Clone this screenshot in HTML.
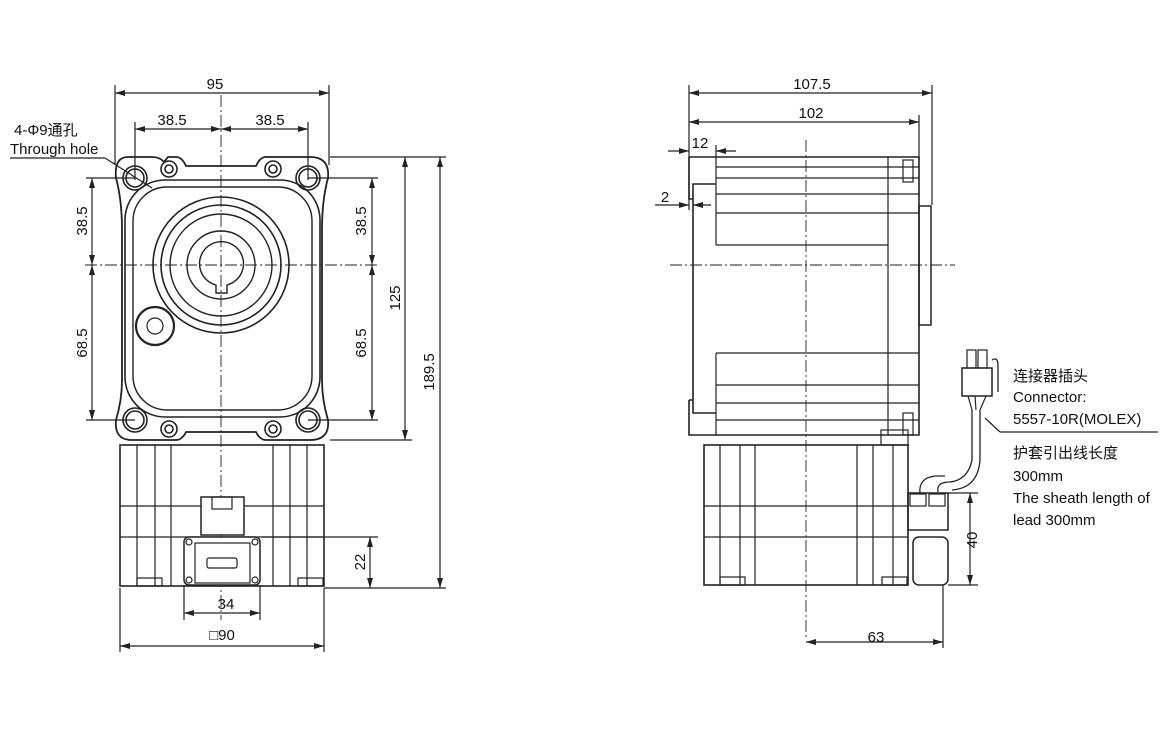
<!DOCTYPE html>
<html><head><meta charset="utf-8"><style>
html,body{margin:0;padding:0;background:#fff}
svg{display:block}
text{font-family:"Liberation Sans","Noto Sans CJK SC",sans-serif;font-size:15px;fill:#111}
</style></head><body>
<svg width="1168" height="730" viewBox="0 0 1168 730" xmlns="http://www.w3.org/2000/svg">
<defs>
<marker id="a" viewBox="0 0 10 6" refX="10" refY="3" markerWidth="10" markerHeight="6" orient="auto-start-reverse" markerUnits="userSpaceOnUse"><path d="M0,0 L10,3 L0,6z" fill="#222"/></marker>
</defs>
<g stroke="#222" fill="none" stroke-width="1.2">
<g stroke-dasharray="12,3,2,3" stroke-width="0.9">
<line x1="221" y1="95" x2="221" y2="620"/>
<line x1="85" y1="265" x2="380" y2="265"/>
<line x1="806" y1="140" x2="806" y2="640"/>
<line x1="670" y1="265" x2="955" y2="265"/>
</g>
<line x1="115" y1="85" x2="115" y2="165"/><line x1="329" y1="85" x2="329" y2="165"/>
<line x1="115" y1="93" x2="329" y2="93" marker-start="url(#a)" marker-end="url(#a)"/>
<line x1="135" y1="122" x2="135" y2="180"/><line x1="308" y1="122" x2="308" y2="180"/>
<line x1="135" y1="129" x2="221" y2="129" marker-start="url(#a)" marker-end="url(#a)"/>
<line x1="221" y1="129" x2="308" y2="129" marker-start="url(#a)" marker-end="url(#a)"/>
<line x1="86" y1="178" x2="135" y2="178"/><line x1="86" y1="420" x2="135" y2="420"/>
<line x1="308" y1="178" x2="378" y2="178"/><line x1="308" y1="420" x2="378" y2="420"/>
<line x1="92" y1="178" x2="92" y2="265" marker-start="url(#a)" marker-end="url(#a)"/>
<line x1="92" y1="265" x2="92" y2="420" marker-start="url(#a)" marker-end="url(#a)"/>
<line x1="372" y1="178" x2="372" y2="265" marker-start="url(#a)" marker-end="url(#a)"/>
<line x1="372" y1="265" x2="372" y2="420" marker-start="url(#a)" marker-end="url(#a)"/>
<line x1="330" y1="157" x2="446" y2="157"/><line x1="330" y1="440" x2="412" y2="440"/>
<line x1="405" y1="157" x2="405" y2="440" marker-start="url(#a)" marker-end="url(#a)"/>
<line x1="324" y1="588" x2="446" y2="588"/>
<line x1="440" y1="157" x2="440" y2="588" marker-start="url(#a)" marker-end="url(#a)"/>
<line x1="262" y1="537" x2="378" y2="537"/>
<line x1="370" y1="537" x2="370" y2="588" marker-start="url(#a)" marker-end="url(#a)"/>
<line x1="184" y1="585" x2="184" y2="620"/><line x1="260" y1="585" x2="260" y2="620"/>
<line x1="184" y1="613" x2="260" y2="613" marker-start="url(#a)" marker-end="url(#a)"/>
<line x1="120" y1="588" x2="120" y2="652"/><line x1="324" y1="588" x2="324" y2="652"/>
<line x1="120" y1="646" x2="324" y2="646" marker-start="url(#a)" marker-end="url(#a)"/>
<line x1="10" y1="158" x2="105" y2="158"/><line x1="105" y1="158" x2="152" y2="188"/>
<path d="M128,157 L152,157 Q160,157 164,162 L168,157 L176,157 Q182,157 186,166 L256,166 Q260,157 266,157 L310,157 Q330,157 328,178 Q322,200 322,230 L322,380 Q322,400 328,420 Q330,440 310,440 L266,440 Q260,440 256,432 L186,432 Q182,440 176,440 L132,440 Q114,440 116,420 Q122,400 122,380 L122,230 Q122,200 116,178 Q114,157 128,157Z" stroke-width="1.8"/>
<rect x="125" y="180" width="195" height="237" rx="40" stroke-width="1.6"/>
<rect x="133" y="187" width="179" height="223" rx="34" stroke-width="1.4"/>
<circle cx="221" cy="265" r="68" stroke-width="1.6"/>
<circle cx="221" cy="265" r="60" stroke-width="1.6"/>
<circle cx="221" cy="265" r="51" stroke-width="1.4"/>
<circle cx="221" cy="265" r="34" stroke-width="1.4"/>
<path d="M216,285 A22,22 0 1 1 227,285 L227,293 L216,293Z" stroke-width="1.4"/>
<circle cx="155" cy="326" r="19" stroke-width="2.2"/>
<circle cx="155" cy="326" r="8"/>
<g stroke-width="1.6">
<circle cx="135" cy="178" r="12"/><circle cx="135" cy="178" r="9"/>
<circle cx="308" cy="178" r="12"/><circle cx="308" cy="178" r="9"/>
<circle cx="135" cy="420" r="12"/><circle cx="135" cy="420" r="9"/>
<circle cx="308" cy="420" r="12"/><circle cx="308" cy="420" r="9"/>
<circle cx="169" cy="169" r="8"/><circle cx="169" cy="169" r="4"/>
<circle cx="273" cy="169" r="8"/><circle cx="273" cy="169" r="4"/>
<circle cx="169" cy="429" r="8"/><circle cx="169" cy="429" r="4"/>
<circle cx="273" cy="429" r="8"/><circle cx="273" cy="429" r="4"/>
</g>
<rect x="120" y="445" width="204" height="141" stroke-width="1.6"/>
<line x1="120" y1="506" x2="324" y2="506"/><line x1="120" y1="537" x2="324" y2="537"/>
<line x1="137" y1="445" x2="137" y2="586"/><line x1="155" y1="445" x2="155" y2="586"/><line x1="171" y1="445" x2="171" y2="586"/>
<line x1="273" y1="445" x2="273" y2="586"/><line x1="290" y1="445" x2="290" y2="586"/><line x1="307" y1="445" x2="307" y2="586"/>
<rect x="201" y="497" width="43" height="38" fill="#fff" stroke-width="1.5"/>
<rect x="212" y="497" width="20" height="12"/>
<rect x="184" y="537" width="76" height="48" rx="5" fill="#fff" stroke-width="1.5"/>
<rect x="195" y="543" width="55" height="40"/>
<rect x="207" y="558" width="30" height="10" rx="2"/>
<circle cx="189" cy="542" r="3"/><circle cx="255" cy="542" r="3"/><circle cx="189" cy="580" r="3"/><circle cx="255" cy="580" r="3"/>
<rect x="137" y="578" width="25" height="8"/><rect x="298" y="578" width="25" height="8"/>
<line x1="689" y1="85" x2="689" y2="210"/>
<line x1="932" y1="85" x2="932" y2="205"/><line x1="919" y1="115" x2="919" y2="160"/>
<line x1="689" y1="93" x2="932" y2="93" marker-start="url(#a)" marker-end="url(#a)"/>
<line x1="689" y1="122" x2="919" y2="122" marker-start="url(#a)" marker-end="url(#a)"/>
<line x1="716" y1="145" x2="716" y2="157"/>
<line x1="668" y1="151" x2="689" y2="151" marker-end="url(#a)"/><line x1="736" y1="151" x2="716" y2="151" marker-end="url(#a)"/>
<line x1="655" y1="205" x2="689" y2="205" marker-end="url(#a)"/><line x1="711" y1="205" x2="693" y2="205" marker-end="url(#a)"/>
<line x1="948" y1="493" x2="978" y2="493"/><line x1="948" y1="585" x2="978" y2="585"/>
<line x1="970" y1="493" x2="970" y2="585" marker-start="url(#a)" marker-end="url(#a)"/>
<line x1="943" y1="585" x2="943" y2="648"/>
<line x1="806" y1="642" x2="943" y2="642" marker-start="url(#a)" marker-end="url(#a)"/>
<path d="M716,157 L919,157 L919,435 L716,435 M689,157 L716,157 M689,157 L689,199 L693,199 L693,184 L716,184 M693,199 L693,413 L716,413 M689,400 L693,400 M689,400 L689,435 L716,435" stroke-width="1.6"/>
<line x1="716" y1="157" x2="716" y2="245"/><line x1="716" y1="353" x2="716" y2="435"/>
<line x1="888" y1="157" x2="888" y2="435"/>
<line x1="716" y1="167" x2="919" y2="167"/><line x1="716" y1="178" x2="919" y2="178"/>
<line x1="716" y1="194" x2="919" y2="194"/><line x1="716" y1="213" x2="919" y2="213"/>
<line x1="716" y1="245" x2="888" y2="245"/>
<line x1="716" y1="353" x2="919" y2="353"/><line x1="716" y1="385" x2="919" y2="385"/>
<line x1="716" y1="403" x2="919" y2="403"/><line x1="716" y1="420" x2="919" y2="420"/>
<rect x="919" y="206" width="12" height="119" stroke-width="1.5"/>
<rect x="903" y="160" width="10" height="22"/><rect x="903" y="413" width="10" height="22"/>
<rect x="881" y="430" width="27" height="15"/>
<rect x="704" y="445" width="204" height="140" stroke-width="1.6"/>
<line x1="704" y1="506" x2="908" y2="506"/><line x1="704" y1="537" x2="908" y2="537"/>
<line x1="720" y1="445" x2="720" y2="585"/><line x1="740" y1="445" x2="740" y2="585"/><line x1="755" y1="445" x2="755" y2="585"/>
<line x1="857" y1="445" x2="857" y2="585"/><line x1="873" y1="445" x2="873" y2="585"/><line x1="893" y1="445" x2="893" y2="585"/>
<rect x="720" y="577" width="25" height="8"/><rect x="882" y="577" width="25" height="8"/>
<rect x="908" y="493" width="40" height="37" stroke-width="1.5"/>
<rect x="910" y="494" width="16" height="12"/><rect x="929" y="494" width="16" height="12"/>
<rect x="913" y="537" width="35" height="48" rx="6" stroke-width="1.5"/>
<path d="M920,494 Q918,478 935,476 L945,476 M938,492 Q936,482 950,482 Q968,480 972,460 L972,410 M980,410 L980,460 Q978,488 952,490" stroke-width="1.3"/>
<rect x="962" y="368" width="30" height="28" stroke-width="1.5"/>
<rect x="967" y="350" width="9" height="18"/><rect x="978" y="350" width="9" height="18"/>
<path d="M992,360 Q998,356 998,366 L998,392" stroke-width="1.3"/>
<path d="M968,396 L972,410 M986,396 L980,410 M975,396 L976,410"/>
<line x1="985" y1="418" x2="1000" y2="432"/><line x1="1000" y1="432" x2="1158" y2="432"/>
</g>
<text x="215" y="89" text-anchor="middle">95</text>
<text x="172" y="125" text-anchor="middle">38.5</text>
<text x="270" y="125" text-anchor="middle">38.5</text>
<text x="14" y="135">4-Φ9通孔</text>
<text x="10" y="154">Through hole</text>
<text transform="translate(87,221) rotate(-90)" text-anchor="middle">38.5</text>
<text transform="translate(87,343) rotate(-90)" text-anchor="middle">68.5</text>
<text transform="translate(366,221) rotate(-90)" text-anchor="middle">38.5</text>
<text transform="translate(366,343) rotate(-90)" text-anchor="middle">68.5</text>
<text transform="translate(400,298) rotate(-90)" text-anchor="middle">125</text>
<text transform="translate(434,372) rotate(-90)" text-anchor="middle">189.5</text>
<text transform="translate(365,562) rotate(-90)" text-anchor="middle">22</text>
<text x="226" y="609" text-anchor="middle">34</text>
<text x="222" y="640" text-anchor="middle">□90</text>
<text x="812" y="89" text-anchor="middle">107.5</text>
<text x="811" y="118" text-anchor="middle">102</text>
<text x="700" y="148" text-anchor="middle">12</text>
<text x="665" y="202" text-anchor="middle">2</text>
<text transform="translate(977,540) rotate(-90)" text-anchor="middle">40</text>
<text x="876" y="642" text-anchor="middle">63</text>
<text x="1013" y="381">连接器插头</text>
<text x="1013" y="402">Connector:</text>
<text x="1013" y="424">5557-10R(MOLEX)</text>
<text x="1013" y="458">护套引出线长度</text>
<text x="1013" y="481">300mm</text>
<text x="1013" y="503">The sheath length of</text>
<text x="1013" y="525">lead 300mm</text>
</svg>
</body></html>
